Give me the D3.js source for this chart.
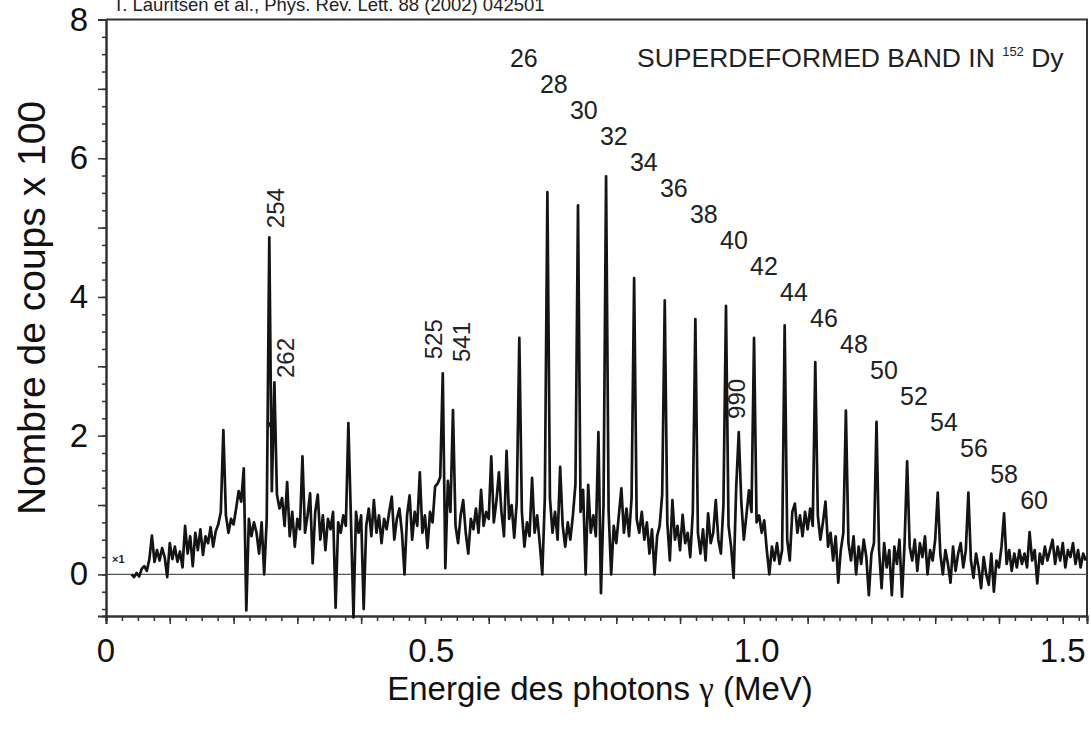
<!DOCTYPE html>
<html><head><meta charset="utf-8">
<script src="https://cdn.jsdelivr.net/npm/d3@7"></script>
<style>
body{margin:0;background:#fff;}
svg{display:block;font-family:"Liberation Sans",Arial,Helvetica,sans-serif;}
</style>
</head><body>
<svg id="chart" width="1091" height="731"></svg>
<script>
// ---- data ----
const channelStart = 0.040;   // MeV, energy of first channel
const channelWidth = 0.004;   // MeV per channel
const counts = [
 0.00,-0.04,0.02,-0.03,0.08,0.12,0.05,0.22,0.56,0.18,
 0.35,0.20,0.38,0.25,-0.04,0.45,0.22,0.40,0.18,0.33,
 0.10,0.70,0.30,0.55,0.12,0.60,0.35,0.65,0.28,0.55,
 0.45,0.68,0.40,0.62,0.72,0.90,2.08,0.85,0.60,0.80,
 0.72,0.95,1.20,1.05,1.53,-0.52,0.80,0.55,0.75,0.60,
 0.30,0.75,0.00,0.80,4.86,1.20,2.77,1.15,0.95,1.10,
 0.70,1.33,0.55,0.90,0.40,0.80,0.65,1.70,0.60,0.85,
 1.17,0.16,0.90,1.15,0.50,0.85,0.35,0.80,0.65,0.90,
 -0.48,0.75,0.60,0.85,0.70,2.18,0.80,-0.62,0.90,0.60,
 0.85,-0.50,0.70,0.95,0.55,1.07,0.60,0.85,0.45,0.80,
 0.65,0.90,1.12,0.50,0.80,0.95,0.60,0.00,0.85,1.14,
 0.50,0.90,0.70,1.47,0.60,0.85,0.38,0.90,0.75,1.27,
 1.31,1.40,2.90,0.09,1.35,0.90,2.37,0.70,0.45,0.85,
 1.07,0.60,0.30,0.80,0.65,0.95,0.60,1.22,0.70,0.90,
 0.80,1.70,0.75,1.05,1.47,0.90,0.55,1.78,0.80,1.00,
 0.53,1.05,3.41,0.90,0.40,0.75,0.55,1.39,0.60,0.85,
 0.45,0.00,1.10,5.51,1.10,0.60,0.90,0.50,1.55,0.70,
 0.40,0.75,0.50,0.85,1.30,5.32,0.90,1.22,0.00,1.29,
 0.60,0.85,0.55,2.05,-0.27,1.00,5.74,0.90,0.00,0.70,
 0.45,0.85,1.24,0.60,0.95,0.55,1.10,4.27,0.80,0.60,
 0.90,0.50,0.75,0.30,0.65,0.00,0.55,0.70,1.15,3.95,
 0.75,0.20,1.07,0.50,0.70,0.35,0.86,0.45,0.60,0.25,
 0.90,3.68,0.60,0.30,0.65,0.20,0.88,0.45,0.60,1.07,
 0.50,0.30,1.00,3.87,0.70,0.40,-0.05,1.25,2.05,1.05,
 0.50,0.85,1.21,0.90,3.41,0.75,0.85,0.60,0.78,0.35,
 0.00,0.40,0.20,0.45,0.15,0.35,3.59,0.50,0.20,0.90,
 1.02,0.60,0.85,0.55,0.90,0.65,0.95,0.70,3.06,0.85,
 0.50,0.75,1.05,0.40,0.60,0.20,0.55,-0.12,0.35,0.60,
 2.36,0.45,0.20,0.55,0.00,0.40,0.15,0.50,0.25,-0.30,
 0.30,0.45,2.20,0.35,-0.20,0.45,0.10,0.35,-0.30,0.40,
 0.15,0.50,-0.32,0.45,1.63,0.40,0.20,0.50,0.05,0.45,
 0.25,0.55,0.00,0.35,0.20,0.50,1.18,0.30,0.00,0.35,
 0.15,-0.12,0.40,0.05,0.30,0.45,0.10,0.35,1.18,0.20,
 -0.05,0.30,0.10,-0.20,0.25,0.00,-0.15,0.30,-0.25,0.20,
 0.10,0.40,0.88,0.15,0.35,0.05,0.30,0.10,0.35,0.15,
 0.30,0.10,0.61,0.20,0.35,-0.13,0.30,0.15,0.40,0.20,
 0.35,0.50,0.15,0.40,0.20,0.45,0.10,0.35,0.25,0.45,
 0.15,0.35,0.10,0.30,0.20
];

// superdeformed band spin labels
const spins = [26,28,30,32,34,36,38,40,42,44,46,48,50,52,54,56,58,60];
const spinFirst = {e:0.655, v:7.45};   // where the 26 label sits (MeV, counts/100)
const spinLast  = {e:1.455, v:1.07};   // where the 60 label sits

// transition labels (keV) and where they sit
const lineNames    = ["254","262","525","541","990"];
const lineEnergies = [0.265,0.281,0.513,0.557,0.988];
const lineHeights  = [5.28,3.12,3.39,3.35,2.53];

// arrow marker on the 262 line
const arrowEnergy = 0.260, arrowHeight = 2.05;

const xMajorTicks = [0,0.1,0.2,0.3,0.4,0.5,0.6,0.7,0.8,0.9,1.0,1.1,1.2,1.3,1.4,1.5];
const xLabelTexts = ["0","0.5","1.0","1.5"];
const xLabelAt    = [0, 0.51, 1.02, 1.5];   // where the printed labels sit (MeV)
const yMajorTicks = [0,1,2,3,4,5,6,7,8];
const yLabelTicks = [0,2,4,6,8];

const titleText = "T. Lauritsen et al., Phys. Rev. Lett. 88 (2002) 042501";

// ---- drawing ----
const svg = d3.select("#chart");
const x = d3.scaleLinear().domain([0, 1.538]).range([106, 1087]);
const y = d3.scaleLinear().domain([-0.6, 8]).range([616, 19.5]);
const ink = "#141414";

// frame (top & right)
svg.append("path")
  .attr("d", `M${x(0)},${y(8)}H${x(1.538)}V${y(-0.6)}`)
  .attr("fill","none").attr("stroke","#333").attr("stroke-width",2);

// zero line
svg.append("line")
  .attr("x1", x(0)).attr("x2", x(1.538)).attr("y1", y(0)).attr("y2", y(0))
  .attr("stroke","#555").attr("stroke-width",1.3);

// axes
function styleAxis(g){
  g.selectAll(".domain").attr("stroke","#333").attr("stroke-width",2);
  g.selectAll(".tick line").attr("stroke","#333").attr("stroke-width",1.5);
  g.selectAll("text").attr("fill","#111")
    .attr("font-family",'"Liberation Sans",Arial,sans-serif').attr("font-size",33);
}
const xMinor = d3.axisBottom(x).tickValues(d3.range(0, 1.53, 0.025)).tickSize(5).tickFormat("");
const xMajor = d3.axisBottom(x).tickValues(xMajorTicks).tickSize(8).tickFormat("");
svg.append("g").attr("transform",`translate(0,${y(-0.6)})`).call(xMinor).call(styleAxis);
svg.append("g").attr("transform",`translate(0,${y(-0.6)})`).call(xMajor).call(styleAxis);
svg.append("g").selectAll("text").data(xLabelTexts).join("text")
  .attr("x",(d,i) => x(xLabelAt[i])).attr("y",y(-0.6) + 46)
  .attr("text-anchor","middle").attr("font-size",33).attr("fill","#111").text(d => d);

const yMinor = d3.axisLeft(y).tickValues(d3.range(-0.5, 8.01, 0.25)).tickSize(4).tickFormat("");
const yMajor = d3.axisLeft(y).tickValues(yMajorTicks).tickSize(8).tickPadding(10)
  .tickFormat(d => yLabelTicks.includes(d) ? String(d) : "");
svg.append("g").attr("transform",`translate(${x(0)},0)`).call(yMinor).call(styleAxis);
svg.append("g").attr("transform",`translate(${x(0)},0)`).call(yMajor).call(styleAxis);

// spectrum
const line = d3.line()
  .x((d,i) => x(channelStart + i*channelWidth))
  .y(d => y(d));
svg.append("path")
  .datum(counts)
  .attr("d", line)
  .attr("fill","none").attr("stroke",ink).attr("stroke-width",2.7)
  .attr("stroke-linejoin","round");

// arrow marker
const ax = x(arrowEnergy), ay = y(arrowHeight);
svg.append("path")
  .attr("d", `M${ax-4.5},${ay-10}L${ax+4.5},${ay-10}L${ax},${ay}Z`)
  .attr("fill",ink);

// title citation (partly cut at top, as in the reference)
svg.append("text").attr("x",113).attr("y",11)
  .attr("font-size",18.5).attr("fill","#222").text(titleText);

// band title
const bt = svg.append("text").attr("x",637).attr("y",67).attr("font-size",26.5).attr("fill","#222");
bt.append("tspan").text("SUPERDEFORMED BAND IN ");
bt.append("tspan").attr("font-size",13).attr("dy",-11).text("152");
bt.append("tspan").attr("dy",11).text(" Dy");

// spin labels
const nS = spins.length - 1;
svg.append("g").selectAll("text").data(spins).join("text")
  .attr("x",(d,i) => x(spinFirst.e + (spinLast.e - spinFirst.e)*i/nS))
  .attr("y",(d,i) => y(spinFirst.v + (spinLast.v - spinFirst.v)*i/nS))
  .attr("text-anchor","middle").attr("dominant-baseline","central")
  .attr("font-size",25).attr("fill","#222").text(d => d);

// transition energy labels (vertical)
svg.append("g").selectAll("text").data(lineNames).join("text")
  .attr("transform",(d,i) => `translate(${x(lineEnergies[i])},${y(lineHeights[i])}) rotate(-90)`)
  .attr("text-anchor","middle").attr("dominant-baseline","central")
  .attr("font-size",24).attr("fill","#222").text(d => d);

// x1 tag
svg.append("text").attr("x",112).attr("y",563).attr("font-size",11).attr("font-weight","bold")
  .attr("fill","#222").text("×1");

// axis titles
const xt = svg.append("text").attr("x",600).attr("y",700).attr("text-anchor","middle")
  .attr("font-size",33).attr("fill","#111");
xt.append("tspan").text("Energie des photons ");
xt.append("tspan").attr("font-family",'"Liberation Serif","Times New Roman",serif').text("γ");
xt.append("tspan").text(" (MeV)");

svg.append("text").attr("transform",`translate(45,308) rotate(-90)`)
  .attr("text-anchor","middle").attr("font-size",39).attr("fill","#111")
  .text("Nombre de coups x 100");
</script>
</body></html>
